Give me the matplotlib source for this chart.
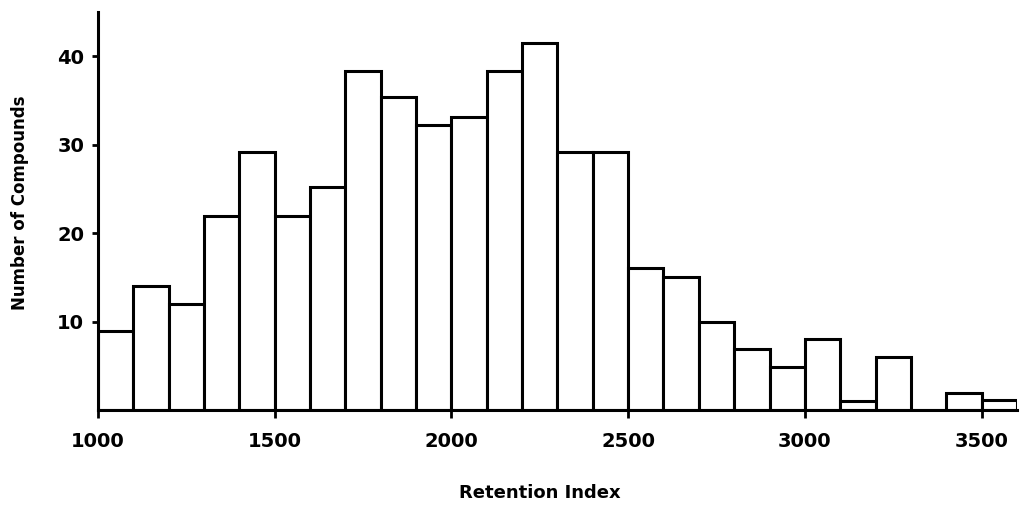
import matplotlib.pyplot as plt
import numpy as np

#bin edges (left side) and counts
bin_left = [1000, 1100, 1200, 1300, 1400, 1500, 1600, 1700, 1800, 1900,
            2000, 2100, 2200, 2300, 2400, 2500, 2600, 2700, 2800, 2900,
            3000, 3100, 3200, 3300, 3400, 3500]
counts = [9, 14, 12, 22, 29.2, 22, 25.2, 38.4, 35.4, 32.2,
          33.2, 38.3, 41.5, 29.2, 29.2, 16.1, 15, 10, 6.9, 4.9,
          8, 1, 6, 0, 1.9, 1.2]
bin_width = 100

x_ticks = [1000, 1500, 2000, 2500, 3000, 3500]
y_ticks = [10, 20, 30, 40]

fig = plt.figure(figsize=(10.21, 5.07), dpi=100)
ax = fig.add_axes([0.096, 0.191, 0.9, 0.785])

ax.bar(bin_left, counts, width=bin_width, align='edge',
       color='white', edgecolor='black', linewidth=2.2)

ax.set_xlim(1000, 3600)
ax.set_ylim(0, 45)

ax.spines['top'].set_visible(False)
ax.spines['right'].set_visible(False)
ax.spines['left'].set_linewidth(2.2)
ax.spines['bottom'].set_linewidth(2.2)

ax.set_xticks(x_ticks)
ax.set_yticks(y_ticks)
ax.tick_params(axis='x', direction='out', length=6, width=2, labelsize=14, pad=10)
ax.tick_params(axis='y', direction='out', length=4, width=2, labelsize=14, pad=6)
for lbl in ax.get_xticklabels() + ax.get_yticklabels():
    lbl.set_fontweight('bold')

#axis titles placed in figure coords
fig.text(540 / 1021, 1 - 493 / 507, 'Retention Index', fontsize=13,
         fontweight='bold', ha='center', va='center')
fig.text(20 / 1021, 1 - 203 / 507, 'Number of Compounds', fontsize=12,
         fontweight='bold', ha='center', va='center', rotation=90)

fig.savefig('out.png', dpi=100)
